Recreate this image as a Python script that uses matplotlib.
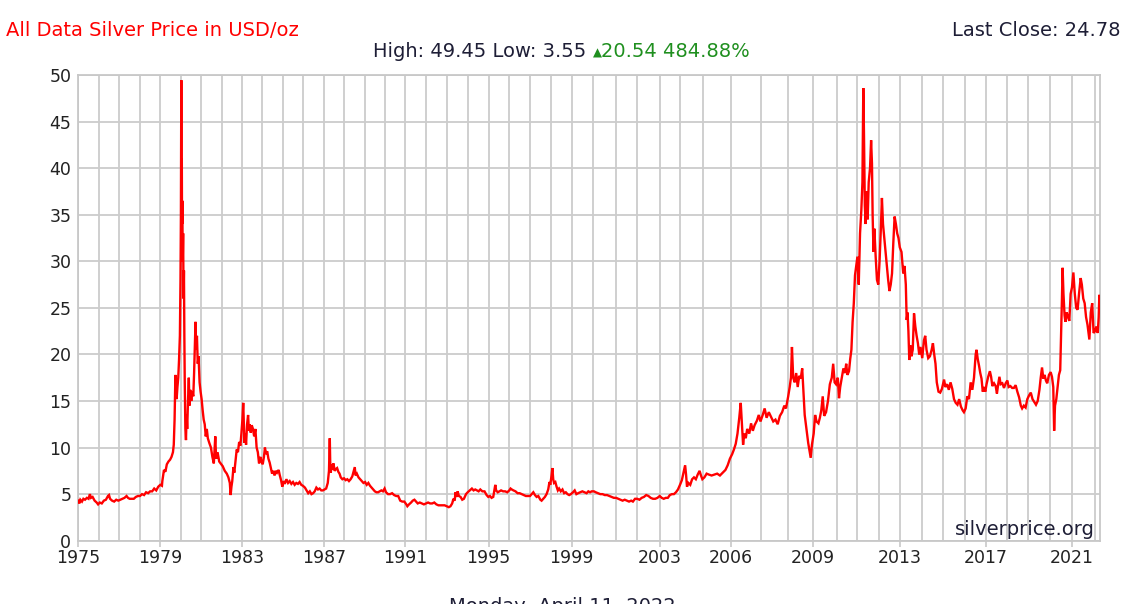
import numpy as np
import matplotlib
matplotlib.use('Agg')
import matplotlib.pyplot as plt
from matplotlib.ticker import FixedLocator, FixedFormatter, NullFormatter

# ---------------- data ----------------
dA = [1975.00,1975.05,1975.10,1975.18,1975.25,1975.33,1975.42,1975.50,1975.57,1975.62,
      1975.70,1975.80,1975.90,1975.97,1976.05,1976.15,1976.25,1976.35,1976.45,1976.50,
      1976.55,1976.65,1976.75,1976.85,1976.95,1977.05,1977.15,1977.25,1977.35,1977.42,
      1977.50,1977.60,1977.70,1977.80,1977.90,1978.00,1978.10,1978.20,1978.30,1978.40,
      1978.50,1978.60,1978.70,1978.80,1978.90]
pA = [4.3,4.0,4.4,4.2,4.5,4.4,4.6,4.5,5.0,4.6,
      4.7,4.3,4.1,3.9,4.1,4.0,4.3,4.4,4.8,4.9,
      4.5,4.3,4.2,4.4,4.3,4.4,4.5,4.6,4.8,4.6,
      4.5,4.5,4.5,4.7,4.8,4.8,5.0,4.9,5.2,5.1,
      5.3,5.3,5.6,5.4,5.8]

dB = [1979.00,1979.08,1979.10,1979.18,1979.25,1979.32,1979.40,1979.48,1979.55,1979.62,
      1979.66,1979.70,1979.74,1979.77,1979.80,1979.84,1979.88,1979.92,1979.96,1979.99,
      1980.01,1980.03,1980.045,1980.055,1980.065,1980.08,1980.10,1980.12,1980.14,1980.16,
      1980.18,1980.20,1980.23,1980.26,1980.29,1980.32,1980.36,1980.40,1980.43,1980.47,
      1980.52,1980.57,1980.62,1980.66,1980.70,1980.73,1980.76,1980.80,1980.84,1980.88,
      1980.93,1980.98]
pB = [6.0,5.9,6.4,7.6,7.4,8.2,8.5,8.7,9.0,9.5,
      10.3,13.0,17.8,16.0,15.2,16.5,17.5,19.5,22.0,28.0,
      35.0,49.45,38.0,41.0,34.0,36.5,30.0,33.0,26.0,29.0,
      22.0,17.0,12.0,10.8,13.5,12.0,15.0,17.5,14.5,16.2,
      15.0,16.0,15.5,18.0,21.0,23.5,20.5,22.0,19.0,19.8,
      17.0,16.0]

dC = [1981.03,1981.08,1981.13,1981.18,1981.23,1981.28,1981.33,1981.40,1981.48,1981.55,
      1981.62,1981.69,1981.73,1981.80,1981.88,1981.95,1982.05,1982.15,1982.25,1982.33,
      1982.40,1982.44,1982.48,1982.52,1982.58,1982.62,1982.68,1982.74,1982.80,1982.86,
      1982.92,1982.97,1983.02,1983.06,1983.09,1983.12,1983.16,1983.20,1983.25,1983.30,
      1983.34,1983.38,1983.43,1983.48,1983.54,1983.60,1983.66,1983.72,1983.78,1983.84,
      1983.90,1983.96]
pC = [15.2,14.0,13.0,12.5,11.2,12.0,11.0,10.5,10.0,9.0,
      8.3,11.2,8.8,9.5,8.5,8.3,8.0,7.5,7.2,6.8,
      6.2,4.9,5.8,6.4,7.9,7.3,8.6,9.8,9.5,10.6,
      10.2,11.5,13.0,14.8,12.5,10.5,11.5,10.3,12.5,13.5,
      11.8,12.5,11.6,12.4,12.0,11.2,12.0,10.0,9.5,8.3,
      9.0,8.5]

dD = [1984.02,1984.08,1984.13,1984.18,1984.24,1984.30,1984.36,1984.42,1984.48,1984.54,
      1984.60,1984.66,1984.72,1984.80,1984.86,1984.92,1984.98,1985.04,1985.10,1985.18,
      1985.26,1985.34,1985.42,1985.50,1985.58,1985.66,1985.74,1985.82,1985.90,1985.98,
      1986.08,1986.16,1986.24,1986.32,1986.40,1986.48,1986.56,1986.64,1986.72,1986.80,
      1986.88,1986.96,1987.04,1987.12,1987.20,1987.26,1987.30,1987.32,1987.35,1987.38,
      1987.42,1987.48,1987.54,1987.60,1987.66,1987.72,1987.78,1987.84,1987.92,1988.00]
pD = [8.2,9.0,10.0,9.3,9.6,8.8,8.4,7.8,7.2,7.5,
      7.0,7.5,7.3,7.6,7.0,6.5,5.8,6.4,6.1,6.6,
      6.2,6.4,6.1,6.3,6.0,6.2,6.1,6.3,6.0,5.9,
      5.7,5.4,5.1,5.3,5.0,5.1,5.3,5.7,5.5,5.6,
      5.4,5.4,5.5,5.6,6.2,7.5,11.0,8.5,7.3,8.2,
      7.6,8.3,7.5,7.7,7.8,7.4,7.2,6.8,6.6,6.7]

dE = [1988.08,1988.16,1988.24,1988.32,1988.40,1988.46,1988.52,1988.56,1988.62,1988.70,
      1988.78,1988.86,1988.94,1989.02,1989.10,1989.18,1989.26,1989.34,1989.42,1989.50,
      1989.58,1989.66,1989.74,1989.82,1989.90,1989.98,1990.05,1990.15,1990.25,1990.35,
      1990.45,1990.55,1990.65,1990.75,1990.85,1990.95,1991.05,1991.10,1991.18,1991.28,
      1991.36,1991.44,1991.52,1991.60,1991.70,1991.80,1991.90,1992.00,1992.10,1992.20,
      1992.30,1992.40,1992.50,1992.60,1992.70,1992.80,1992.90,1993.00,1993.10,1993.18]
pE = [6.5,6.6,6.4,6.6,6.9,7.4,7.9,7.0,7.2,6.8,
      6.6,6.4,6.2,6.3,6.0,6.2,5.9,5.7,5.5,5.3,
      5.2,5.2,5.3,5.4,5.3,5.6,5.2,5.0,5.0,5.1,
      4.9,4.8,4.8,4.3,4.2,4.2,3.9,3.7,3.9,4.1,
      4.3,4.4,4.2,4.0,4.1,4.0,3.9,4.0,4.1,4.0,
      4.0,4.1,3.9,3.8,3.8,3.8,3.8,3.7,3.6,3.7]

dF = [1993.26,1993.32,1993.38,1993.42,1993.46,1993.52,1993.58,1993.66,1993.74,1993.82,
      1993.92,1994.00,1994.10,1994.20,1994.28,1994.36,1994.44,1994.52,1994.60,1994.70,
      1994.80,1994.90,1994.98,1995.06,1995.14,1995.22,1995.28,1995.32,1995.36,1995.44,
      1995.52,1995.60,1995.70,1995.80,1995.90,1996.00,1996.06,1996.12,1996.20,1996.30,
      1996.40,1996.50,1996.60,1996.70,1996.80,1996.90,1997.00,1997.08,1997.16,1997.24,
      1997.32,1997.40,1997.50,1997.56,1997.64,1997.72,1997.80,1997.88,1997.94,1997.98]
pF = [4.0,4.5,4.3,5.2,4.7,5.3,4.8,4.7,4.4,4.5,
      5.0,5.2,5.4,5.6,5.4,5.5,5.4,5.3,5.5,5.3,
      5.3,4.9,4.7,4.8,4.6,4.7,5.5,6.0,5.4,5.2,
      5.3,5.4,5.3,5.3,5.2,5.4,5.6,5.5,5.4,5.3,
      5.1,5.1,5.0,4.9,4.8,4.8,4.8,5.0,5.2,4.9,
      4.7,4.8,4.4,4.3,4.5,4.7,5.0,5.5,6.3,6.0]

dG = [1998.04,1998.08,1998.12,1998.16,1998.22,1998.28,1998.34,1998.40,1998.48,1998.56,
      1998.64,1998.72,1998.80,1998.88,1998.96,1999.06,1999.14,1999.22,1999.30,1999.40,
      1999.50,1999.60,1999.70,1999.78,1999.86,1999.94,2000.04,2000.12,2000.22,2000.32,
      2000.42,2000.52,2000.62,2000.72,2000.82,2000.92,2001.02,2001.12,2001.22,2001.32,
      2001.42,2001.52,2001.62,2001.72,2001.80,2001.90,2002.00,2002.10,2002.20,2002.30,
      2002.40,2002.50,2002.60,2002.70,2002.80,2002.90,2003.00,2003.10,2003.20,2003.30,
      2003.40,2003.50,2003.60,2003.70,2003.80,2003.90]
pG = [7.0,7.8,6.6,6.2,6.3,5.8,5.4,5.6,5.3,5.5,
      5.1,5.2,5.0,4.9,5.0,5.2,5.4,5.0,5.1,5.2,
      5.3,5.2,5.1,5.3,5.2,5.3,5.3,5.2,5.1,5.0,
      5.0,4.9,4.9,4.8,4.7,4.6,4.6,4.5,4.4,4.3,
      4.4,4.3,4.2,4.3,4.2,4.5,4.5,4.4,4.6,4.7,
      4.9,4.8,4.6,4.5,4.5,4.6,4.8,4.6,4.5,4.6,
      4.6,4.9,5.0,5.0,5.2,5.5]

dH = [2004.00,2004.08,2004.14,2004.22,2004.26,2004.30,2004.36,2004.44,2004.52,2004.60,
      2004.68,2004.76,2004.84,2004.90,2004.96,2005.04,2005.12,2005.20,2005.30,2005.40,
      2005.50,2005.60,2005.70,2005.80,2005.88,2005.96,2006.04,2006.10,2006.16,2006.22,
      2006.28,2006.33,2006.37,2006.41,2006.45,2006.50,2006.55,2006.62,2006.68,2006.74,
      2006.80,2006.88,2006.94,2007.00,2007.08,2007.15,2007.22,2007.30,2007.38,2007.46,
      2007.54,2007.62,2007.70,2007.78,2007.86,2007.92,2008.00,2008.06,2008.11,2008.15,
      2008.20,2008.26,2008.32,2008.38,2008.44,2008.50,2008.56,2008.60,2008.66,2008.72,
      2008.80,2008.86,2008.90,2008.95]
pH = [6.0,6.5,7.2,8.1,7.1,5.8,6.2,6.0,6.6,6.8,
      6.6,7.1,7.5,7.0,6.6,6.8,7.2,7.1,7.0,7.1,
      7.2,7.0,7.3,7.6,8.1,8.8,9.3,9.8,10.4,11.5,
      13.2,14.8,12.5,10.3,11.5,11.0,12.0,11.5,12.6,11.8,
      12.4,12.9,13.5,12.8,13.5,14.2,13.2,13.8,13.3,12.8,
      13.0,12.5,13.4,13.8,14.5,14.2,15.5,16.5,17.5,20.8,
      17.5,17.0,18.0,16.5,17.7,17.4,18.5,16.5,13.5,12.2,
      10.5,9.5,8.9,10.3]

dI = [2009.02,2009.08,2009.14,2009.22,2009.28,2009.34,2009.40,2009.46,2009.54,2009.62,
      2009.70,2009.78,2009.84,2009.90,2009.96,2010.04,2010.10,2010.16,2010.24,2010.32,
      2010.40,2010.46,2010.52,2010.60,2010.66,2010.72,2010.78,2010.84,2010.90,2010.96,
      2011.02,2011.08,2011.14,2011.20,2011.25,2011.29,2011.32,2011.36,2011.40,2011.44,
      2011.49,2011.54,2011.60,2011.65,2011.69,2011.72,2011.76,2011.80,2011.86,2011.92,
      2011.98,2012.04,2012.10,2012.15,2012.20,2012.26,2012.32,2012.38,2012.44,2012.50,
      2012.56,2012.62,2012.68,2012.74,2012.80,2012.86,2012.92,2012.98]
pI = [11.5,13.5,12.8,12.6,13.2,14.0,15.5,13.4,13.8,15.0,
      16.8,17.5,19.0,17.0,16.8,17.5,15.3,16.5,17.5,18.5,
      18.0,19.0,17.8,18.2,19.5,20.5,23.5,25.5,28.5,29.5,
      30.5,27.5,33.0,35.5,38.5,48.6,44.0,36.0,34.0,37.5,
      34.5,38.5,40.0,43.0,40.5,35.0,31.0,33.5,30.5,28.0,
      27.5,30.0,33.5,36.8,34.0,32.5,31.0,29.5,28.0,26.8,
      27.5,28.7,32.0,34.8,34.0,33.0,32.5,31.5]

dJ = [2013.06,2013.14,2013.20,2013.26,2013.30,2013.34,2013.38,2013.42,2013.46,2013.52,
      2013.58,2013.64,2013.70,2013.76,2013.82,2013.88,2013.94,2014.02,2014.10,2014.16,
      2014.22,2014.30,2014.38,2014.46,2014.52,2014.58,2014.64,2014.70,2014.78,2014.86,
      2014.94,2015.04,2015.10,2015.18,2015.26,2015.34,2015.42,2015.50,2015.58,2015.66,
      2015.74,2015.82,2015.90,2015.96]
pJ = [31.0,28.7,29.5,27.5,23.7,24.5,22.5,19.4,21.0,19.8,
      20.5,24.4,23.0,22.0,21.2,20.0,20.8,19.6,21.5,22.0,
      20.5,19.6,19.8,20.5,21.2,20.0,19.0,17.0,16.0,15.9,
      16.3,17.3,16.5,16.8,16.2,17.0,16.3,15.2,14.8,14.6,
      15.2,14.4,14.0,13.8]

dK = [2016.04,2016.12,2016.20,2016.28,2016.36,2016.44,2016.52,2016.56,2016.62,2016.68,
      2016.74,2016.80,2016.86,2016.92,2016.98,2017.04,2017.12,2017.20,2017.26,2017.32,
      2017.40,2017.48,2017.54,2017.60,2017.66,2017.72,2017.80,2017.88,2017.96,2018.04,
      2018.10,2018.18,2018.26,2018.34,2018.42,2018.50,2018.58,2018.66,2018.72,2018.80,
      2018.88,2018.96,2019.04,2019.12,2019.20,2019.28,2019.36,2019.44,2019.52,2019.58,
      2019.64,2019.70,2019.76,2019.82,2019.88,2019.96,2020.04,2020.10,2020.16,2020.20,
      2020.24,2020.30,2020.36,2020.42,2020.48,2020.52,2020.56,2020.59,2020.63,2020.68,
      2020.72,2020.78,2020.84,2020.90,2020.96,2021.02,2021.08,2021.14,2021.20,2021.26,
      2021.32,2021.39,2021.44,2021.50,2021.56,2021.62,2021.68,2021.76,2021.82,2021.88,
      2021.94,2022.00,2022.06,2022.12,2022.16,2022.19,2022.23,2022.27]
pK = [14.2,15.5,15.2,17.0,16.2,17.5,20.0,20.5,19.5,18.8,
      18.0,17.4,16.0,16.5,16.0,16.8,17.6,18.2,17.6,16.6,
      16.9,16.6,15.8,16.8,17.6,16.8,16.9,16.4,16.9,17.2,
      16.5,16.6,16.4,16.4,16.7,16.0,15.4,14.5,14.2,14.5,
      14.3,15.2,15.6,15.9,15.2,14.9,14.6,15.0,16.2,17.5,
      18.6,17.4,17.8,17.2,16.9,17.8,18.1,17.6,16.5,11.8,
      14.5,15.2,16.5,17.8,18.3,22.0,26.0,29.3,26.5,24.2,
      23.5,24.5,24.0,23.6,26.5,27.2,28.8,26.5,25.0,24.8,
      26.5,28.2,27.5,26.0,25.5,24.0,23.2,21.6,24.5,25.5,
      22.3,22.5,23.0,22.3,24.0,26.4,25.0,24.8]

date_parts = [dA, dB, dC, dD, dE, dF, dG, dH, dI, dJ, dK]
price_parts = [pA, pB, pC, pD, pE, pF, pG, pH, pI, pJ, pK]
dates, prices = [], []
for d, p in zip(date_parts, price_parts):
    n = min(len(d), len(p))
    dates += d[:n]
    prices += p[:n]

y_ticks = [0, 5, 10, 15, 20, 25, 30, 35, 40, 45, 50]
x_label_years = [1975, 1979, 1983, 1987, 1991, 1995, 1999, 2003, 2006, 2009, 2013, 2017, 2021]
grid_years = list(range(1975, 2023))

title_text = "All Data Silver Price in USD/oz"
stats_text = "High: 49.45 Low: 3.55 "
change_text = "20.54 484.88%"
last_close_text = "Last Close: 24.78"
source_text = "silverprice.org"
date_text = "Monday, April 11, 2022"

# ---------------- axis calibration (uneven yearly spacing of the source axis) ----------------
cal_years = np.arange(1975, 2024, dtype=float)
cal_pos = np.array([78.3, 98.7, 119.3, 140.0, 160.3, 180.7, 201.0, 221.7, 242.0, 262.3,
                    282.7, 303.3, 323.7, 344.0, 364.7, 385.0, 405.3, 426.0, 446.7, 467.7,
                    488.7, 509.3, 530.0, 550.7, 571.7, 593.0, 615.7, 637.2, 659.7, 680.0,
                    703.3, 731.0, 760.5, 788.2, 813.2, 837.0, 857.0, 878.7, 900.2, 921.8,
                    943.2, 964.8, 985.7, 1006.5, 1028.2, 1049.8, 1071.5, 1095.0, 1118.0])


def fwd(x):
    x = np.asarray(x, dtype=float)
    y = np.interp(x, cal_years, cal_pos)
    y = np.where(x < cal_years[0], cal_pos[0] + (x - cal_years[0]) * 20.4, y)
    y = np.where(x > cal_years[-1], cal_pos[-1] + (x - cal_years[-1]) * 23.0, y)
    return y


def inv(p):
    p = np.asarray(p, dtype=float)
    x = np.interp(p, cal_pos, cal_years)
    x = np.where(p < cal_pos[0], cal_years[0] + (p - cal_pos[0]) / 20.4, x)
    x = np.where(p > cal_pos[-1], cal_years[-1] + (p - cal_pos[-1]) / 23.0, x)
    return x


# ---------------- figure ----------------
W, H = 1133, 604
fig = plt.figure(figsize=(W / 100, H / 100), dpi=100)
fig.patch.set_facecolor('white')
L, R, T, B = 78.3, 1100.0, 75.0, 540.7
ax = fig.add_axes([L / W, 1 - B / H, (R - L) / W, (B - T) / H])

ax.set_xscale('function', functions=(fwd, inv))
ax.set_xlim(1975, float(inv(R)))
ax.set_ylim(0, 50)

grid_c = '#cccccc'
ax.plot(dates, prices, color='#ff0000', lw=1.7, zorder=3, solid_joinstyle='miter')

ax.xaxis.set_major_locator(FixedLocator(x_label_years))
ax.xaxis.set_major_formatter(FixedFormatter([str(y) for y in x_label_years]))
ax.xaxis.set_minor_locator(FixedLocator(grid_years))
ax.xaxis.set_minor_formatter(NullFormatter())
ax.yaxis.set_major_locator(FixedLocator(y_ticks))
ax.set_yticklabels([str(v) for v in y_ticks])

ax.grid(which='both', axis='x', color=grid_c, lw=1.3)
ax.grid(which='major', axis='y', color=grid_c, lw=1.3)
ax.set_axisbelow(True)

for s in ax.spines.values():
    s.set_color('#c8c8c8')
    s.set_linewidth(1.3)

ax.tick_params(axis='x', which='major', length=4, width=1.2, color='#c8c8c8',
               labelcolor='#222222', labelsize=12.5, pad=2)
ax.tick_params(axis='x', which='minor', length=0)
ax.tick_params(axis='y', which='major', length=0, labelcolor='#222222', labelsize=12.5, pad=5)

# ---------------- texts ----------------
dark = '#1e1e36'
green = '#1f8f1f'
fs = 14
fig.text(6 / W, 1 - 36 / H, title_text, color='#ff0000', fontsize=fs, va='baseline', ha='left')
fig.text(1120 / W, 1 - 36 / H, last_close_text, color=dark, fontsize=fs, va='baseline', ha='right')

renderer = fig.canvas.get_renderer()
x0 = 373.0
yb = 1 - 57.3 / H
t1 = fig.text(x0 / W, yb, stats_text, color=dark, fontsize=fs, va='baseline', ha='left')
bb = t1.get_window_extent(renderer)
t2 = fig.text(bb.x1 / W, yb + 1.0 / H, "\u25b2", color=green, fontsize=8.5, va='baseline', ha='left')
bb2 = t2.get_window_extent(renderer)
fig.text(bb2.x1 / W, yb, change_text, color=green, fontsize=fs, va='baseline', ha='left')

fig.text(1095 / W, 1 - 535 / H, source_text, color=dark, fontsize=fs, ha='right', va='baseline')

fig.text(562 / W, 1 - 596.5 / H, date_text, color=dark, fontsize=fs, ha='center', va='top')

fig.savefig('out.png', dpi=100, facecolor='white')
